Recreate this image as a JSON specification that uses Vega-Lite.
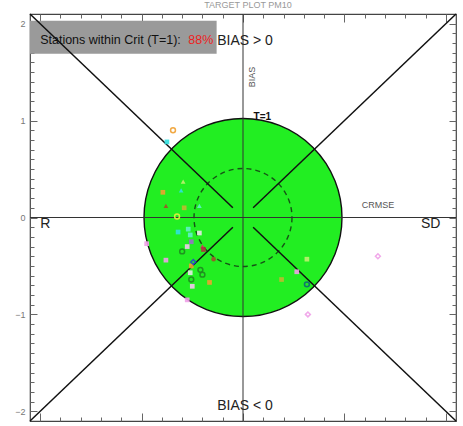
{
  "$schema": "https://vega.github.io/schema/vega-lite/v6.json",
  "width": 426,
  "height": 407,
  "autosize": {"type": "none"},
  "padding": {"left": 30, "top": 14, "right": 7, "bottom": 5},
  "background": "white",
  "config": {
    "view": {"stroke": "#444", "strokeWidth": 1.2},
    "font": "Liberation Sans"
  },
  "title": {"text": "TARGET PLOT   PM10", "fontSize": 9, "fontWeight": "normal", "color": "#999", "offset": 3, "anchor": "middle", "dx": 5},
  "datasets": {
    "box": [{"x": -2.1, "x2": -0.26, "y": 2.03, "y2": 1.69}],
    "center": [{"x": 0, "y": 0}],
    "diag": [
      {"x": -2.1, "y": 2.1, "x2": -0.1, "y2": 0.1},
      {"x": 2.1, "y": 2.1, "x2": 0.1, "y2": 0.1},
      {"x": -2.1, "y": -2.1, "x2": -0.1, "y2": -0.1},
      {"x": 2.1, "y": -2.1, "x2": 0.1, "y2": -0.1}
    ],
    "cross": [
      {"x": -2.1, "y": 0, "x2": 2.1, "y2": 0},
      {"x": 0, "y": -2.1, "x2": 0, "y2": 2.1}
    ],
    "stations": [
      {"x": -0.69, "y": 0.90, "c": "orange", "m": "circle", "f": "open"},
      {"x": -0.75, "y": 0.78, "c": "cyan", "m": "square", "f": "solid"},
      {"x": -0.59, "y": 0.37, "c": "lightgreen", "m": "triangle-up", "f": "solid"},
      {"x": -0.79, "y": 0.26, "c": "orange", "m": "square", "f": "solid"},
      {"x": -0.61, "y": 0.28, "c": "cyan", "m": "triangle-up", "f": "solid"},
      {"x": -0.76, "y": 0.12, "c": "brown", "m": "triangle-up", "f": "solid"},
      {"x": -0.58, "y": 0.10, "c": "olive", "m": "square", "f": "solid"},
      {"x": -0.43, "y": 0.12, "c": "aqua", "m": "triangle-up", "f": "solid"},
      {"x": -0.65, "y": 0.01, "c": "yellow", "m": "circle", "f": "open"},
      {"x": -0.64, "y": -0.15, "c": "cyan", "m": "square", "f": "solid"},
      {"x": -0.54, "y": -0.12, "c": "aqua", "m": "square", "f": "solid"},
      {"x": -0.52, "y": -0.18, "c": "aqua", "m": "square", "f": "solid"},
      {"x": -0.43, "y": -0.16, "c": "lightgray", "m": "square", "f": "solid"},
      {"x": -0.51, "y": -0.25, "c": "purple", "m": "square", "f": "solid"},
      {"x": -0.95, "y": -0.27, "c": "pink", "m": "square", "f": "solid"},
      {"x": -0.55, "y": -0.30, "c": "lightpink", "m": "square", "f": "solid"},
      {"x": -0.40, "y": -0.30, "c": "red", "m": "triangle-up", "f": "solid"},
      {"x": -0.60, "y": -0.35, "c": "darkgreen", "m": "circle", "f": "open"},
      {"x": -0.39, "y": -0.33, "c": "crimson", "m": "square", "f": "solid"},
      {"x": -0.29, "y": -0.43, "c": "brown", "m": "circle", "f": "solid"},
      {"x": -0.76, "y": -0.44, "c": "pink", "m": "square", "f": "solid"},
      {"x": -0.49, "y": -0.46, "c": "blue", "m": "diamond", "f": "open"},
      {"x": -0.51, "y": -0.50, "c": "orange", "m": "square", "f": "solid"},
      {"x": -0.42, "y": -0.54, "c": "darkgreen", "m": "circle", "f": "open"},
      {"x": -0.52, "y": -0.57, "c": "lightgray", "m": "square", "f": "solid"},
      {"x": -0.51, "y": -0.64, "c": "darkgreen", "m": "circle", "f": "open"},
      {"x": -0.40, "y": -0.59, "c": "darkgreen", "m": "circle", "f": "open"},
      {"x": -0.33, "y": -0.67, "c": "orange", "m": "square", "f": "solid"},
      {"x": -0.50, "y": -0.71, "c": "lightpink", "m": "square", "f": "solid"},
      {"x": -0.55, "y": -0.85, "c": "pink", "m": "square", "f": "solid"},
      {"x": 0.63, "y": -0.43, "c": "lightgreen", "m": "square", "f": "solid"},
      {"x": 0.53, "y": -0.56, "c": "pink", "m": "square", "f": "solid"},
      {"x": 0.38, "y": -0.64, "c": "olive", "m": "square", "f": "solid"},
      {"x": 0.63, "y": -0.69, "c": "teal", "m": "circle", "f": "open"},
      {"x": 0.64, "y": -1.00, "c": "pink", "m": "diamond", "f": "open"},
      {"x": 1.33, "y": -0.40, "c": "pink", "m": "diamond", "f": "open"}
    ],
    "labels": [
      {"x": 0.02, "y": 1.82, "t": "BIAS > 0", "k": "big"},
      {"x": 0.02, "y": -1.95, "t": "BIAS < 0", "k": "big"},
      {"x": 1.33, "y": 0.13, "t": "CRMSE", "k": "small"},
      {"x": 1.85, "y": -0.07, "t": "SD", "k": "big"},
      {"x": -1.95, "y": -0.07, "t": "R", "k": "big"}
    ],
    "boxtext": [{"x": -2.0, "y": 1.83, "t": "Stations within Crit (T=1):"}],
    "pct": [{"x": -0.54, "y": 1.83, "t": "88%"}],
    "tlabel": [{"x": 0.19, "y": 1.04, "t": "T=1"}],
    "biaslabel": [{"x": 0.09, "y": 1.45, "t": "BIAS"}]
  },
  "resolve": {"axis": {"x": "independent", "y": "independent"}},
  "layer": [
    {
      "data": {"name": "box"},
      "mark": {"type": "rect", "color": "#9a9a9a"},
      "encoding": {
        "x": {"field": "x", "type": "quantitative", "scale": {"domain": [-2.1, 2.1], "nice": false, "zero": false},
          "axis": {"orient": "bottom", "title": null, "grid": false, "domain": false,
            "values": [-2, -1.8, -1.6, -1.4, -1.2, -1, -0.8, -0.6, -0.4, -0.2, 0, 0.2, 0.4, 0.6, 0.8, 1, 1.2, 1.4, 1.6, 1.8, 2],
            "labels": false, "tickColor": "#666",
            "tickSize": {"condition": {"test": "abs(datum.value - round(datum.value)) < 0.01", "value": -8}, "value": -4}}},
        "x2": {"field": "x2"},
        "y": {"field": "y", "type": "quantitative", "scale": {"domain": [-2.1, 2.1], "nice": false, "zero": false},
          "axis": {"orient": "left", "title": null, "grid": false, "domain": false,
            "values": [-2, -1.9, -1.8, -1.7, -1.6, -1.5, -1.4, -1.3, -1.2, -1.1, -1, -0.9, -0.8, -0.7, -0.6, -0.5, -0.4, -0.3, -0.2, -0.1, 0, 0.1, 0.2, 0.3, 0.4, 0.5, 0.6, 0.7, 0.8, 0.9, 1, 1.1, 1.2, 1.3, 1.4, 1.5, 1.6, 1.7, 1.8, 1.9, 2],
            "labelExpr": "abs(datum.value - round(datum.value)) < 0.01 ? format(datum.value, 'd') : ''",
            "labelColor": "#777", "labelFontSize": 9, "labelPadding": 12, "tickColor": "#666",
            "tickSize": {"condition": {"test": "abs(datum.value - round(datum.value)) < 0.01", "value": -7}, "value": -4}}},
        "y2": {"field": "y2"}
      }
    },
    {
      "data": {"name": "center"},
      "mark": {"type": "point", "shape": "circle", "filled": true, "fill": "#22ee22", "fillOpacity": 1, "stroke": "#111", "strokeWidth": 1.4, "strokeOpacity": 1, "size": 39200},
      "encoding": {
        "x": {"field": "x", "type": "quantitative",
          "axis": {"orient": "top", "title": null, "grid": false, "domain": false,
            "values": [-2, -1.8, -1.6, -1.4, -1.2, -1, -0.8, -0.6, -0.4, -0.2, 0, 0.2, 0.4, 0.6, 0.8, 1, 1.2, 1.4, 1.6, 1.8, 2],
            "labels": false, "tickColor": "#666",
            "tickSize": {"condition": {"test": "abs(datum.value - round(datum.value)) < 0.01", "value": -8}, "value": -4}}},
        "y": {"field": "y", "type": "quantitative",
          "axis": {"orient": "right", "title": null, "grid": false, "domain": false,
            "values": [-2, -1.9, -1.8, -1.7, -1.6, -1.5, -1.4, -1.3, -1.2, -1.1, -1, -0.9, -0.8, -0.7, -0.6, -0.5, -0.4, -0.3, -0.2, -0.1, 0, 0.1, 0.2, 0.3, 0.4, 0.5, 0.6, 0.7, 0.8, 0.9, 1, 1.1, 1.2, 1.3, 1.4, 1.5, 1.6, 1.7, 1.8, 1.9, 2],
            "labels": false, "tickColor": "#666",
            "tickSize": {"condition": {"test": "abs(datum.value - round(datum.value)) < 0.01", "value": -7}, "value": -4}}}
      }
    },
    {
      "data": {"name": "center"},
      "mark": {"type": "point", "shape": "circle", "filled": false, "stroke": "#111", "strokeWidth": 1.4, "strokeOpacity": 1, "strokeDash": [5, 4], "size": 9600},
      "encoding": {
        "x": {"field": "x", "type": "quantitative", "axis": null},
        "y": {"field": "y", "type": "quantitative", "axis": null}
      }
    },
    {
      "data": {"name": "cross"},
      "mark": {"type": "rule", "color": "#333", "strokeWidth": 1},
      "encoding": {
        "x": {"field": "x", "type": "quantitative", "axis": null},
        "y": {"field": "y", "type": "quantitative", "axis": null},
        "x2": {"field": "x2"},
        "y2": {"field": "y2"}
      }
    },
    {
      "data": {"name": "diag"},
      "mark": {"type": "rule", "color": "#111", "strokeWidth": 1.5},
      "encoding": {
        "x": {"field": "x", "type": "quantitative", "axis": null},
        "y": {"field": "y", "type": "quantitative", "axis": null},
        "x2": {"field": "x2"},
        "y2": {"field": "y2"}
      }
    },
    {
      "data": {"name": "stations"},
      "transform": [{"filter": "datum.f === 'solid'"}],
      "mark": {"type": "point", "filled": true, "opacity": 0.9, "size": 22},
      "encoding": {
        "x": {"field": "x", "type": "quantitative", "axis": null},
        "y": {"field": "y", "type": "quantitative", "axis": null},
        "shape": {"field": "m", "type": "nominal", "scale": null, "legend": null},
        "color": {"field": "c", "type": "nominal", "legend": null,
          "scale": {"domain": ["orange", "cyan", "lightgreen", "brown", "olive", "aqua", "yellow", "lightgray", "purple", "pink", "lightpink", "red", "darkgreen", "crimson", "blue", "teal"],
                    "range": ["#f0a030", "#30e0e0", "#c0f070", "#a0502a", "#c0b830", "#60f0c8", "#e8f040", "#e8e8e8", "#9870c8", "#f0a0e8", "#f4c8f0", "#e02860", "#208a20", "#b03040", "#2848c8", "#106878"]}}
      }
    },
    {
      "data": {"name": "stations"},
      "transform": [{"filter": "datum.f === 'open'"}],
      "mark": {"type": "point", "filled": false, "strokeWidth": 1.5, "opacity": 0.9, "size": 24},
      "encoding": {
        "x": {"field": "x", "type": "quantitative", "axis": null},
        "y": {"field": "y", "type": "quantitative", "axis": null},
        "shape": {"field": "m", "type": "nominal", "scale": null, "legend": null},
        "color": {"field": "c", "type": "nominal", "legend": null,
          "scale": {"domain": ["orange", "cyan", "lightgreen", "brown", "olive", "aqua", "yellow", "lightgray", "purple", "pink", "lightpink", "red", "darkgreen", "crimson", "blue", "teal"],
                    "range": ["#f0a030", "#30e0e0", "#c0f070", "#a0502a", "#c0b830", "#60f0c8", "#e8f040", "#e8e8e8", "#9870c8", "#f0a0e8", "#f4c8f0", "#e02860", "#208a20", "#b03040", "#2848c8", "#106878"]}}
      }
    },
    {
      "data": {"name": "labels"},
      "transform": [{"filter": "datum.k === 'big'"}],
      "mark": {"type": "text", "fontSize": 14, "color": "#222", "align": "center", "baseline": "middle"},
      "encoding": {
        "x": {"field": "x", "type": "quantitative", "axis": null},
        "y": {"field": "y", "type": "quantitative", "axis": null},
        "text": {"field": "t"}
      }
    },
    {
      "data": {"name": "labels"},
      "transform": [{"filter": "datum.k === 'small'"}],
      "mark": {"type": "text", "fontSize": 9, "color": "#555", "align": "center", "baseline": "middle"},
      "encoding": {
        "x": {"field": "x", "type": "quantitative", "axis": null},
        "y": {"field": "y", "type": "quantitative", "axis": null},
        "text": {"field": "t"}
      }
    },
    {
      "data": {"name": "boxtext"},
      "mark": {"type": "text", "fontSize": 12.5, "color": "#111", "align": "left", "baseline": "middle"},
      "encoding": {
        "x": {"field": "x", "type": "quantitative", "axis": null},
        "y": {"field": "y", "type": "quantitative", "axis": null},
        "text": {"field": "t"}
      }
    },
    {
      "data": {"name": "pct"},
      "mark": {"type": "text", "fontSize": 12.5, "color": "#ee2222", "align": "left", "baseline": "middle"},
      "encoding": {
        "x": {"field": "x", "type": "quantitative", "axis": null},
        "y": {"field": "y", "type": "quantitative", "axis": null},
        "text": {"field": "t"}
      }
    },
    {
      "data": {"name": "tlabel"},
      "mark": {"type": "text", "fontSize": 10, "fontWeight": "bold", "color": "#111", "align": "center", "baseline": "middle"},
      "encoding": {
        "x": {"field": "x", "type": "quantitative", "axis": null},
        "y": {"field": "y", "type": "quantitative", "axis": null},
        "text": {"field": "t"}
      }
    },
    {
      "data": {"name": "biaslabel"},
      "mark": {"type": "text", "fontSize": 9, "color": "#555", "align": "center", "baseline": "middle", "angle": 270},
      "encoding": {
        "x": {"field": "x", "type": "quantitative", "axis": null},
        "y": {"field": "y", "type": "quantitative", "axis": null},
        "text": {"field": "t"}
      }
    }
  ]
}
